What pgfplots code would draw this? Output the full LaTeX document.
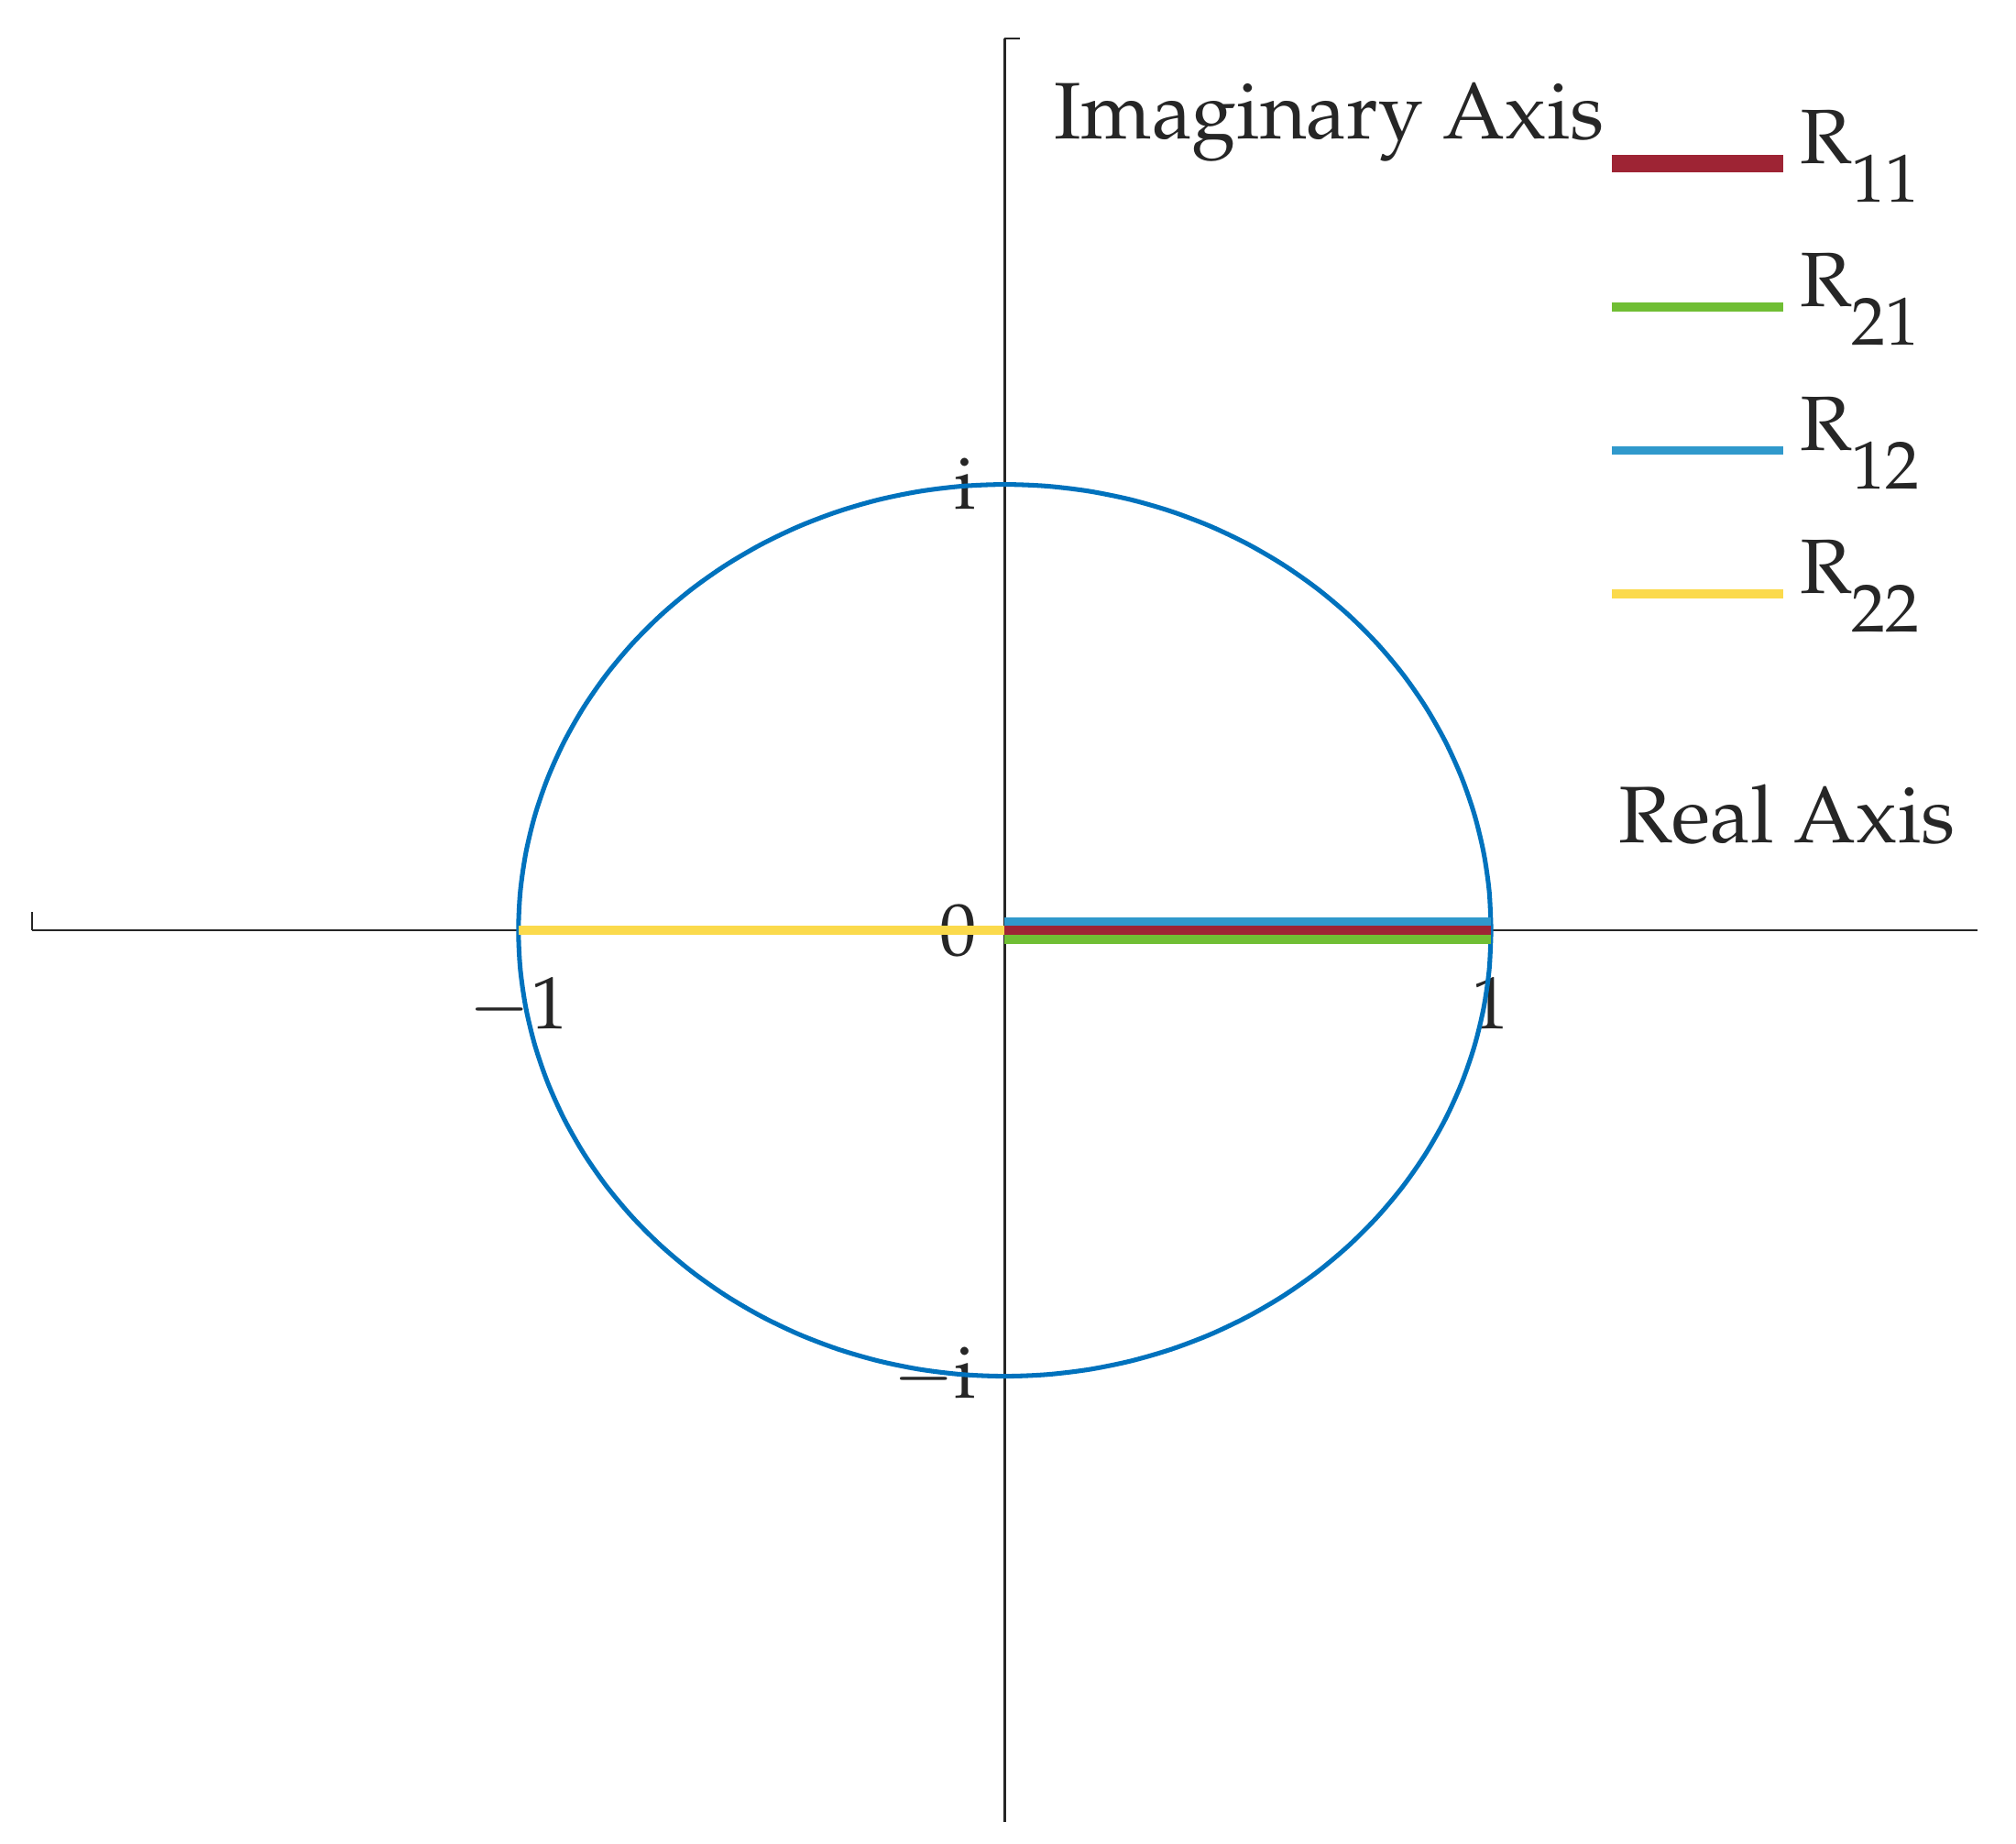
\documentclass[border=0pt]{standalone}
\usepackage[T1]{fontenc}
\usepackage{mathpazo}
\usepackage{pgfplots}
\pgfplotsset{compat=1.18}

\definecolor{axgray}{RGB}{38,38,38}
\definecolor{circblue}{RGB}{0,114,189}
\definecolor{rred}{RGB}{158,36,52}
\definecolor{rgreen}{RGB}{112,190,52}
\definecolor{rblue}{RGB}{48,153,204}
\definecolor{ryellow}{RGB}{251,218,76}

\newcommand{\Rs}[1]{R\raisebox{-7.5pt}{\fontsize{13.2}{14}\selectfont #1}}

\begin{document}
\begin{tikzpicture}
\begin{axis}[
  set layers,
  scale only axis, width=378.25pt, height=346.75pt,
  xmin=-2, xmax=2, ymin=-2, ymax=2,
  axis lines=middle,
  axis line style={-, color=axgray, line width=0.5pt},
  xtick={-1,1}, ytick={-1,0,1},
  yticklabels={$-\mathrm{i}$,$0$,$\mathrm{i}$},
  hide obscured x ticks=false, hide obscured y ticks=false,
  major tick length=0pt,
  tick label style={font=\fontsize{14.4}{17}\selectfont, text=axgray},
  xticklabel style={yshift=-5.5pt},
  yticklabel style={xshift=-2pt},
  xlabel={Real Axis}, ylabel={Imaginary Axis},
  label style={font=\fontsize{15.6}{18}\selectfont, text=axgray},
  xlabel style={at={(rel axis cs:0.998,0.549)}, anchor=base east},
  ylabel style={at={(rel axis cs:0.516,0.944)}, anchor=base west, rotate=0},
  legend style={draw=none, fill=none, at={(rel axis cs:0.807,0.965)}, anchor=north west,
    font=\fontsize{15}{17}\selectfont, text=axgray, row sep=13pt, inner sep=0pt,
    nodes={inner sep=1.5pt, yshift=4.5pt, xshift=-1.2pt}},
  legend cell align=left,
  legend image code/.code={\draw[#1] (0pt,0pt) -- (33.4pt,0pt);},
]
% unit circle
\addplot[circblue, line width=0.9pt, smooth, forget plot] coordinates {
(1,0) (0.99619,0.08716) (0.98481,0.17365) (0.96593,0.25882) (0.93969,0.34202) (0.90631,0.42262)
(0.86603,0.5) (0.81915,0.57358) (0.76604,0.64279) (0.70711,0.70711) (0.64279,0.76604) (0.57358,0.81915)
(0.5,0.86603) (0.42262,0.90631) (0.34202,0.93969) (0.25882,0.96593) (0.17365,0.98481) (0.08716,0.99619) (0,1)
(-0.08716,0.99619) (-0.17365,0.98481) (-0.25882,0.96593) (-0.34202,0.93969) (-0.42262,0.90631) (-0.5,0.86603)
(-0.57358,0.81915) (-0.64279,0.76604) (-0.70711,0.70711) (-0.76604,0.64279) (-0.81915,0.57358) (-0.86603,0.5)
(-0.90631,0.42262) (-0.93969,0.34202) (-0.96593,0.25882) (-0.98481,0.17365) (-0.99619,0.08716) (-1,0)
(-0.99619,-0.08716) (-0.98481,-0.17365) (-0.96593,-0.25882) (-0.93969,-0.34202) (-0.90631,-0.42262) (-0.86603,-0.5)
(-0.81915,-0.57358) (-0.76604,-0.64279) (-0.70711,-0.70711) (-0.64279,-0.76604) (-0.57358,-0.81915) (-0.5,-0.86603)
(-0.42262,-0.90631) (-0.34202,-0.93969) (-0.25882,-0.96593) (-0.17365,-0.98481) (-0.08716,-0.99619) (0,-1)
(0.08716,-0.99619) (0.17365,-0.98481) (0.25882,-0.96593) (0.34202,-0.93969) (0.42262,-0.90631) (0.5,-0.86603)
(0.57358,-0.81915) (0.64279,-0.76604) (0.70711,-0.70711) (0.76604,-0.64279) (0.81915,-0.57358) (0.86603,-0.5)
(0.90631,-0.42262) (0.93969,-0.34202) (0.96593,-0.25882) (0.98481,-0.17365) (0.99619,-0.08716) (1,0)
};
\addplot[rred, line width=3.4pt] coordinates {(0,0) (1,0)};
\addlegendentry{\Rs{11}}
\addplot[rgreen, line width=1.7pt] coordinates {(0,-0.02) (1,-0.02)};
\addlegendentry{\Rs{21}}
\addplot[rblue, line width=1.7pt] coordinates {(0,0.02) (1,0.02)};
\addlegendentry{\Rs{12}}
\addplot[ryellow, line width=1.9pt] coordinates {(-1,0) (0,0)};
\addlegendentry{\Rs{22}}
\end{axis}
% small end ticks of the axis lines
\draw[axgray, line width=0.5pt] (0,173.375pt) -- ++(0pt,3.5pt);
\draw[axgray, line width=0.5pt] (189.125pt,346.75pt) -- ++(3pt,0pt);
\pgfresetboundingbox
\path[use as bounding box] (-6.25pt,-4.25pt) rectangle (385.75pt,354.25pt);
\end{tikzpicture}
\end{document}
